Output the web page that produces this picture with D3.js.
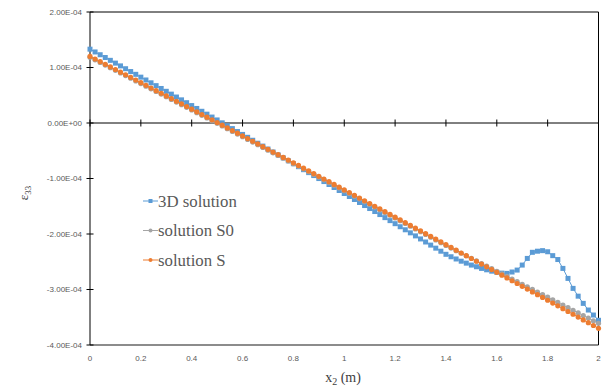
<!DOCTYPE html>
<html>
<head>
<meta charset="utf-8">
<script src="https://cdn.jsdelivr.net/npm/d3@7"></script>
<style>
  body { margin: 0; background: #fff; }
  svg { display: block; }
</style>
</head>
<body>
<div id="chart"></div>
<script>
'use strict';

// strain values, in units of 1E-04, at x2 = 0, 0.02, ... 2.00
const xValues = d3.range(0, 101).map(i => +(i * 0.02).toFixed(2));

const solution3D = [
  1.330, 1.280, 1.230, 1.180, 1.129, 1.079, 1.029, 0.978, 0.927, 0.877,
  0.826, 0.775, 0.724, 0.673, 0.622, 0.571, 0.520, 0.468, 0.417, 0.366,
  0.314, 0.262, 0.211, 0.159, 0.107, 0.055, 0.003, -0.049, -0.101, -0.154,
  -0.206, -0.258, -0.311, -0.364, -0.416, -0.469, -0.522, -0.575, -0.628, -0.681,
  -0.734, -0.787, -0.841, -0.894, -0.947, -1.001, -1.055, -1.108, -1.162, -1.216,
  -1.270, -1.324, -1.378, -1.432, -1.487, -1.541, -1.595, -1.650, -1.705, -1.759,
  -1.814, -1.869, -1.924, -1.979, -2.034, -2.089, -2.144, -2.200, -2.255, -2.310,
  -2.366, -2.410, -2.450, -2.490, -2.525, -2.560, -2.590, -2.620, -2.645, -2.670,
  -2.690, -2.705, -2.710, -2.685, -2.650, -2.560, -2.440, -2.330, -2.310, -2.300,
  -2.320, -2.390, -2.460, -2.620, -2.800, -2.980, -3.120, -3.250, -3.370, -3.460,
  -3.555
];

const solutionS0 = [
  1.185, 1.138, 1.091, 1.043, 0.996, 0.949, 0.901, 0.854, 0.806, 0.759,
  0.711, 0.664, 0.616, 0.568, 0.521, 0.473, 0.425, 0.377, 0.330, 0.282,
  0.234, 0.186, 0.138, 0.090, 0.042, -0.006, -0.054, -0.103, -0.151, -0.199,
  -0.247, -0.296, -0.344, -0.392, -0.441, -0.489, -0.538, -0.586, -0.635, -0.683,
  -0.732, -0.780, -0.829, -0.878, -0.927, -0.975, -1.024, -1.073, -1.122, -1.171,
  -1.220, -1.269, -1.318, -1.367, -1.416, -1.465, -1.515, -1.564, -1.613, -1.662,
  -1.712, -1.761, -1.811, -1.860, -1.910, -1.959, -2.009, -2.058, -2.108, -2.158,
  -2.207, -2.254, -2.300, -2.347, -2.392, -2.439, -2.485, -2.532, -2.578, -2.625,
  -2.671, -2.718, -2.764, -2.812, -2.858, -2.905, -2.951, -2.999, -3.045, -3.092,
  -3.139, -3.186, -3.233, -3.280, -3.327, -3.374, -3.421, -3.469, -3.515, -3.563,
  -3.610
];

const solutionS = [
  1.200, 1.153, 1.106, 1.058, 1.011, 0.964, 0.916, 0.869, 0.821, 0.774,
  0.726, 0.679, 0.631, 0.583, 0.536, 0.488, 0.440, 0.392, 0.345, 0.297,
  0.249, 0.201, 0.153, 0.105, 0.057, 0.009, -0.039, -0.088, -0.136, -0.184,
  -0.232, -0.281, -0.329, -0.377, -0.426, -0.474, -0.523, -0.571, -0.620, -0.668,
  -0.717, -0.765, -0.814, -0.863, -0.912, -0.960, -1.009, -1.058, -1.107, -1.156,
  -1.205, -1.254, -1.303, -1.352, -1.401, -1.450, -1.500, -1.549, -1.598, -1.647,
  -1.697, -1.746, -1.796, -1.845, -1.895, -1.944, -1.994, -2.043, -2.093, -2.143,
  -2.192, -2.242, -2.292, -2.342, -2.391, -2.441, -2.491, -2.541, -2.591, -2.641,
  -2.691, -2.741, -2.791, -2.842, -2.892, -2.942, -2.992, -3.043, -3.093, -3.143,
  -3.194, -3.244, -3.295, -3.345, -3.396, -3.446, -3.497, -3.548, -3.598, -3.649,
  -3.700
];

const yTicks = [2, 1, 0, -1, -2, -3, -4];
const yTickLabels = ["2.00E-04", "1.00E-04", "0.00E+00", "-1.00E-04", "-2.00E-04", "-3.00E-04", "-4.00E-04"];
const xTicks = [0, 0.2, 0.4, 0.6, 0.8, 1, 1.2, 1.4, 1.6, 1.8, 2];
const seriesNames = ["3D solution", "solution S0", "solution S"];

const W = 607, H = 388;
const margin = { top: 12, right: 8, bottom: 43, left: 90 };

const svg = d3.select("#chart").append("svg")
  .attr("width", W)
  .attr("height", H);

svg.append("rect").attr("width", W).attr("height", H).attr("fill", "#fff");

const x = d3.scaleLinear().domain([0, 2]).range([margin.left, W - margin.right - 0.5]);
const y = d3.scaleLinear().domain([-4, 2]).range([H - margin.bottom, margin.top]);

// plot frame
svg.append("line")
  .attr("x1", x(0)).attr("x2", x(2))
  .attr("y1", y(-4)).attr("y2", y(-4))
  .attr("stroke", "#8c8c8c").attr("stroke-width", 2);
svg.append("line")
  .attr("x1", x(0)).attr("x2", x(2))
  .attr("y1", y(2)).attr("y2", y(2))
  .attr("stroke", "#000").attr("stroke-width", 1);
svg.append("line")
  .attr("x1", x(2)).attr("x2", x(2))
  .attr("y1", y(2)).attr("y2", y(-4))
  .attr("stroke", "#000").attr("stroke-width", 1);

// y axis (crossing ticks)
const yAxis = svg.append("g").attr("class", "y-axis");
yAxis.append("line")
  .attr("x1", x(0)).attr("x2", x(0))
  .attr("y1", y(2)).attr("y2", y(-4))
  .attr("stroke", "#000");
yAxis.selectAll(".tick")
  .data(yTicks)
  .enter()
  .append("line")
  .attr("x1", x(0) - 3.5).attr("x2", x(0) + 3.5)
  .attr("y1", d => y(d)).attr("y2", d => y(d))
  .attr("stroke", "#000");
yAxis.selectAll(".tick-label")
  .data(yTicks)
  .enter()
  .append("text")
  .attr("x", x(0) - 8)
  .attr("y", d => y(d))
  .attr("dy", "0.35em")
  .attr("text-anchor", "end")
  .attr("fill", "#595959")
  .style("font", "8px 'Liberation Sans', Arial, sans-serif")
  .text((d, i) => yTickLabels[i]);

// x axis at zero, labels at the bottom
const xAxis = svg.append("g").attr("class", "x-axis");
xAxis.append("line")
  .attr("x1", x(0)).attr("x2", x(2))
  .attr("y1", y(0)).attr("y2", y(0))
  .attr("stroke", "#000");
xAxis.selectAll(".tick")
  .data(xTicks)
  .enter()
  .append("line")
  .attr("x1", d => x(d)).attr("x2", d => x(d))
  .attr("y1", y(0) - 3.5).attr("y2", y(0) + 3.5)
  .attr("stroke", "#000");
xAxis.selectAll(".tick-label")
  .data(xTicks)
  .enter()
  .append("text")
  .attr("x", d => x(d))
  .attr("y", y(-4) + 16)
  .attr("text-anchor", "middle")
  .attr("fill", "#595959")
  .style("font", "8px 'Liberation Sans', Arial, sans-serif")
  .text(d => d);

// axis titles
const yTitle = svg.append("text")
  .attr("transform", `translate(28,${193}) rotate(-90)`)
  .attr("text-anchor", "middle")
  .attr("fill", "#404040")
  .style("font", "13px 'Liberation Serif', 'Times New Roman', serif");
yTitle.append("tspan").text("ε");
yTitle.append("tspan").attr("dy", 3).style("font-size", "9px").text("33");

const xTitle = svg.append("text")
  .attr("x", 343)
  .attr("y", 382)
  .attr("text-anchor", "middle")
  .attr("fill", "#404040")
  .style("font", "14px 'Liberation Serif', 'Times New Roman', serif");
xTitle.append("tspan").text("x");
xTitle.append("tspan").attr("dy", 3).style("font-size", "10px").text("2");
xTitle.append("tspan").attr("dy", -3).text(" (m)");

// series
const series = [
  { name: seriesNames[0], values: solution3D, color: "#5B9BD5", marker: "square" },
  { name: seriesNames[1], values: solutionS0, color: "#A5A5A5", marker: "circle" },
  { name: seriesNames[2], values: solutionS, color: "#ED7D31", marker: "circle" }
];

const line = d3.line()
  .x(d => x(d[0]))
  .y(d => y(d[1]));

function drawMarker(g, marker, color) {
  if (marker === "square") {
    g.append("rect")
      .attr("x", -2.5).attr("y", -2.5)
      .attr("width", 5).attr("height", 5)
      .attr("fill", color);
  } else {
    g.append("circle")
      .attr("r", 2.6)
      .attr("fill", color);
  }
}

series.forEach(s => {
  const pts = xValues.map((xv, i) => [xv, s.values[i]]);
  const g = svg.append("g").attr("class", "series");
  g.append("path")
    .datum(pts)
    .attr("d", line)
    .attr("fill", "none")
    .attr("stroke", s.color)
    .attr("stroke-width", 1);
  g.selectAll(".pt")
    .data(pts)
    .enter()
    .append("g")
    .attr("transform", d => `translate(${x(d[0])},${y(d[1])})`)
    .each(function () { drawMarker(d3.select(this), s.marker, s.color); });
});

// legend
const legend = svg.append("g")
  .attr("class", "legend")
  .attr("transform", "translate(143,201)");
const item = legend.selectAll(".legend-item")
  .data(series)
  .enter()
  .append("g")
  .attr("transform", (d, i) => `translate(0,${i * 29.5})`);
item.append("line")
  .attr("x1", 0).attr("x2", 15)
  .attr("stroke", d => d.color)
  .attr("stroke-width", 1);
item.append("g")
  .attr("transform", "translate(7.5,0)")
  .each(function (d) {
    const g = d3.select(this);
    if (d.marker === "square") {
      g.append("rect").attr("x", -2).attr("y", -2).attr("width", 4).attr("height", 4).attr("fill", d.color);
    } else {
      g.append("circle").attr("r", 2).attr("fill", d.color);
    }
  });
item.append("text")
  .attr("x", 15)
  .attr("y", 0)
  .attr("dy", "0.33em")
  .attr("fill", "#595959")
  .style("font", "16.8px 'Liberation Serif', 'Times New Roman', serif")
  .text(d => d.name);
</script>
</body>
</html>
